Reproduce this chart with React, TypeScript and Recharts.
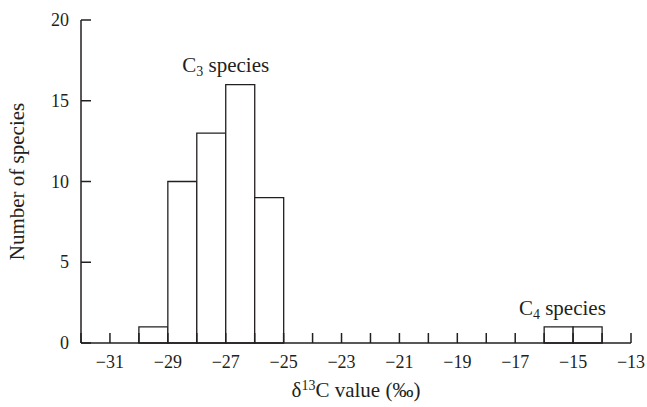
import React from 'react';
import { ComposedChart, Bar, XAxis, YAxis, ReferenceDot, Label } from 'recharts';

// histogram bins (lower edge, ‰) and species counts
const binStarts = [-30, -29, -28, -27, -26, -16, -15];
const counts = [1, 10, 13, 16, 9, 1, 1];
const binWidth = 1;

const xTicks = [-32, -31, -30, -29, -28, -27, -26, -25, -24, -23, -22, -21, -20, -19, -18, -17, -16, -15, -14, -13];
const xLabeledTicks = [-31, -29, -27, -25, -23, -21, -19, -17, -15, -13];
const yTicks = [0, 5, 10, 15, 20];

const annotations = [
  { sub: '3', x: -27, y: 16.8 },
  { sub: '4', x: -15.37, y: 1.73 },
];

const data = binStarts.map((s, i) => ({ mid: s + binWidth / 2, count: counts[i] }));

const FONT = '"Liberation Serif", "Times New Roman", serif';
const INK = '#231f20';
const TICK_FS = 18;
const LABEL_FS = 21;

const fmtMinus = (v: number) => (v < 0 ? '\u2212' + Math.abs(v) : String(v));

const XTick = (props: any) => {
  const { x, y, payload } = props;
  const show = xLabeledTicks.includes(payload.value);
  return (
    <g>
      <line x1={x} y1={y} x2={x} y2={y - 10} stroke={INK} strokeWidth={1.5} />
      {show && (
        <text x={x} y={y + 25} textAnchor="middle" fontFamily={FONT} fontSize={TICK_FS} fill={INK}>
          {fmtMinus(payload.value)}
        </text>
      )}
    </g>
  );
};

const YTick = (props: any) => {
  const { x, y, payload } = props;
  return (
    <g>
      <line x1={x} y1={y} x2={x + 10} y2={y} stroke={INK} strokeWidth={1.5} />
      <text x={x - 12} y={y + 6} textAnchor="end" fontFamily={FONT} fontSize={TICK_FS} fill={INK}>
        {payload.value}
      </text>
    </g>
  );
};

const annotContent = (sub: string) => (props: any) => {
  const vb = props.viewBox || {};
  const cx = (vb.x ?? 0) + (vb.width ?? 0) / 2;
  const cy = vb.y ?? 0;
  return (
    <text x={cx} y={cy} textAnchor="middle" fontFamily={FONT} fontSize={LABEL_FS} fill={INK}>
      C
      <tspan fontSize={14} dy={4}>{sub}</tspan>
      <tspan dy={-4}> species</tspan>
    </text>
  );
};

const xLabelContent = (props: any) => {
  const vb = props.viewBox || {};
  const cx = vb.x + vb.width / 2;
  return (
    <text x={cx} y={vb.y + 54} textAnchor="middle" fontFamily={FONT} fontSize={LABEL_FS} fill={INK}>
      δ<tspan fontSize={14} dy={-7}>13</tspan>
      <tspan dy={7}>C value (‰)</tspan>
    </text>
  );
};

const yLabelContent = (props: any) => {
  const vb = props.viewBox || {};
  const cx = vb.x + 3;
  const cy = vb.y + vb.height / 2;
  return (
    <text
      x={cx}
      y={cy}
      textAnchor="middle"
      transform={`rotate(-90, ${cx}, ${cy})`}
      fontFamily={FONT}
      fontSize={LABEL_FS}
      fill={INK}
    >
      Number of species
    </text>
  );
};

export default function App() {
  return (
    <div style={{ position: 'fixed', left: 0, top: 0, width: 647, height: 407, overflow: 'hidden', background: '#fff' }}>
      <ComposedChart
        width={647}
        height={407}
        data={data}
        margin={{ top: 20, right: 16, bottom: 14, left: 21 }}
        barCategoryGap={0}
        barGap={0}
      >
        <XAxis
          dataKey="mid"
          type="number"
          domain={[-32, -13]}
          ticks={xTicks}
          interval={0}
          tickSize={0}
          tickMargin={0}
          tick={<XTick />}
          tickLine={false}
          axisLine={{ stroke: INK, strokeWidth: 1.5 }}
          height={50}
          allowDataOverflow
        >
          <Label content={xLabelContent} />
        </XAxis>
        <YAxis
          type="number"
          domain={[0, 20]}
          ticks={yTicks}
          interval={0}
          tickSize={0}
          tickMargin={0}
          tick={<YTick />}
          tickLine={false}
          axisLine={{ stroke: INK, strokeWidth: 1.5 }}
          width={60}
        >
          <Label content={yLabelContent} />
        </YAxis>
        <Bar dataKey="count" fill="#ffffff" stroke={INK} strokeWidth={1.3} isAnimationActive={false} />
        {annotations.map((a) => (
          <ReferenceDot
            key={a.sub}
            x={a.x}
            y={a.y}
            r={0}
            fill="none"
            stroke="none"
            ifOverflow="visible"
            label={annotContent(a.sub)}
          />
        ))}
      </ComposedChart>
    </div>
  );
}
